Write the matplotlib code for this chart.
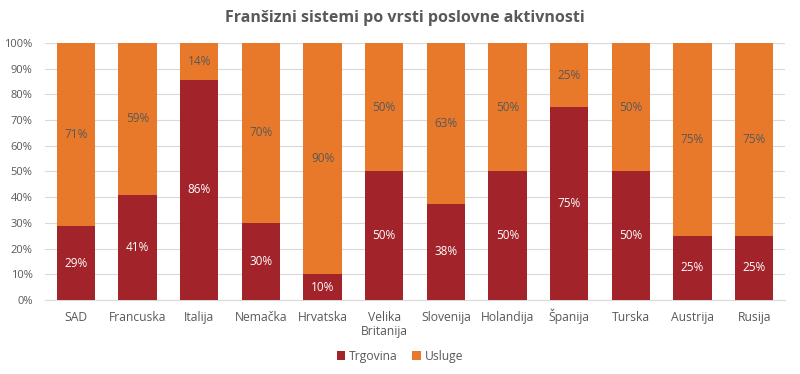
import matplotlib.pyplot as plt
from matplotlib.ticker import PercentFormatter
from matplotlib.transforms import ScaledTranslation

plt.rcParams["font.family"] = ["Open Sans", "DejaVu Sans"]

countries = ["SAD", "Francuska", "Italija", "Nemačka", "Hrvatska", "Velika\nBritanija",
             "Slovenija", "Holandija", "Španija", "Turska", "Austrija", "Rusija"]
trgovina = [28.6, 41, 85.7, 30, 10, 50, 37.5, 50, 75, 50, 25, 25]
usluge = [71.4, 59, 14.3, 70, 90, 50, 62.5, 50, 25, 50, 75, 75]

red = "#A2232A"
orange = "#E8782A"
gray = "#595959"

fig = plt.figure(figsize=(8, 3.74), dpi=100)
ax = fig.add_axes([0.05625, 0.198, 0.925, 0.687])

x = range(len(countries))
b1 = ax.bar(x, trgovina, width=0.62, color=red, label="Trgovina", zorder=3)
b2 = ax.bar(x, usluge, width=0.62, bottom=trgovina, color=orange, label="Usluge", zorder=3)

for i in x:
    ax.text(i, trgovina[i] / 2, f"{int(trgovina[i] + 0.5)}%", ha="center", va="center",
            color="white", fontsize=8.5, zorder=4)
    ax.text(i, trgovina[i] + usluge[i] / 2, f"{int(usluge[i] + 0.5)}%", ha="center",
            va="center", color=gray, fontsize=8.5, zorder=4)

ax.set_xlim(-0.5, len(countries) - 0.5)
ax.set_ylim(0, 100)
ax.set_yticks(range(0, 101, 10))
ax.yaxis.set_major_formatter(PercentFormatter(decimals=0))
ax.set_xticks(list(x))
ax.set_xticklabels([])
ax.tick_params(axis="both", length=0, labelsize=8, colors=gray)
ax.tick_params(axis="y", pad=9)
ax.grid(axis="y", color="#D9D9D9", linewidth=0.8, zorder=0)
for s in ["top", "right", "left"]:
    ax.spines[s].set_visible(False)
ax.spines["bottom"].set_color("#D9D9D9")

# category labels drawn line by line on a common baseline (keeps Š from shifting)
for i, lab in enumerate(countries):
    for k, line in enumerate(lab.split("\n")):
        off = ScaledTranslation(0, -(21 + 14.3 * k) / 100, fig.dpi_scale_trans)
        ax.text(i, 0, line, transform=ax.get_xaxis_transform() + off,
                ha="center", va="baseline", fontsize=8.7, color=gray)

fig.text(0.506, 0.952, "Franšizni sistemi po vrsti poslovne aktivnosti", ha="center",
         va="center", fontsize=11.5, fontweight="bold", color=gray)
fig.legend(handles=[b1, b2], loc="center", bbox_to_anchor=(0.5, 0.048), ncol=2,
           frameon=False, fontsize=8.7, labelcolor=gray, handlelength=0.7,
           handleheight=0.7, handletextpad=0.3, columnspacing=1.2)

fig.savefig("out.png", dpi=100)
